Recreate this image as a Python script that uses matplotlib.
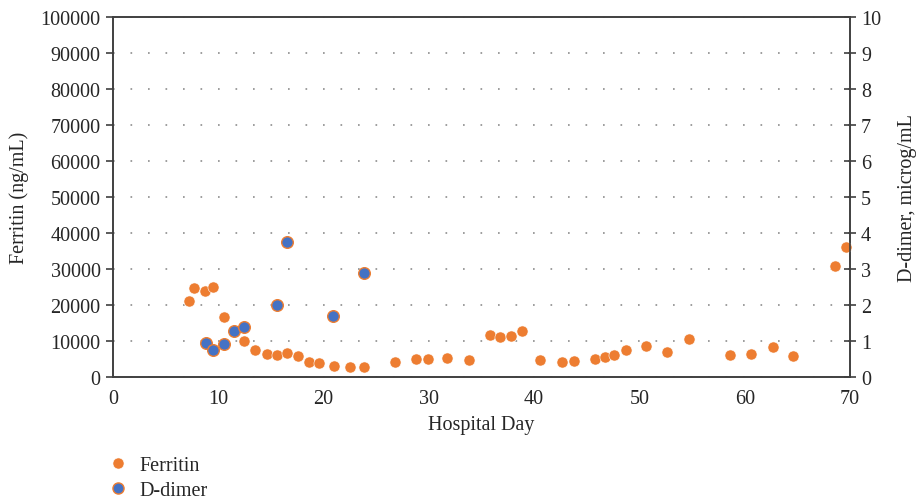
import numpy as np
import matplotlib
matplotlib.use("Agg")
import matplotlib.pyplot as plt
from matplotlib.lines import Line2D

plt.rcParams['font.family'] = ['Liberation Serif', 'DejaVu Serif']

# ferritin (ng/mL) by hospital day
ferritin_day = [7.2, 7.7, 8.7, 9.5, 10.5, 12.4, 13.5, 14.6, 15.6, 16.5, 17.6, 18.6,
                19.6, 21.0, 22.5, 23.8, 26.8, 28.8, 29.9, 31.7, 33.8, 35.8, 36.8,
                37.8, 38.8, 40.6, 42.6, 43.8, 45.8, 46.7, 47.6, 48.7, 50.6, 52.6,
                54.7, 58.6, 60.6, 62.7, 64.6, 68.6, 69.6]
ferritin_val = [21200, 24600, 24000, 24900, 16700, 9900, 7400, 6500, 6200, 6800, 5700,
                4100, 3800, 3100, 2800, 2800, 4100, 5100, 4900, 5400, 4600, 11600,
                11000, 11300, 12700, 4600, 4100, 4400, 4900, 5500, 6000, 7600, 8600,
                7000, 10500, 6000, 6300, 8400, 5700, 30700, 36200]

# D-dimer (microg/mL) by hospital day
ddimer_day = [8.8, 9.5, 10.5, 11.5, 12.4, 15.6, 16.5, 20.9, 23.8]
ddimer_val = [0.94, 0.76, 0.91, 1.29, 1.38, 2.01, 3.75, 1.69, 2.89]

orange = '#ED7D31'
blue = '#4472C4'
axis_col = '#404040'
text_col = '#262626'
fs = 14.5

fig = plt.figure(figsize=(9.19, 5.02), dpi=100)
ax = fig.add_axes([113 / 919, 1 - 378 / 502, (850 - 113) / 919, (378 - 18) / 502])
ax2 = ax.twinx()

ax.scatter(ferritin_day, ferritin_val, s=64, color=orange, edgecolors='white',
           linewidths=0.4, zorder=3, clip_on=False)
ax2.scatter(ddimer_day, ddimer_val, s=70, color=blue, edgecolors=orange,
            linewidths=1.0, zorder=3, clip_on=False)

ax.set_xlim(0, 70)
ax.set_ylim(0, 100000)
ax2.set_ylim(0, 10)
ax.set_xticks(np.arange(0, 71, 10))
ax.set_yticks(np.arange(0, 100001, 10000))
ax2.set_yticks(np.arange(0, 11, 1))

ax.grid(axis='y', color='#8C8C8C', linestyle=(0, (1, 9.5)), linewidth=1.2)
ax.set_axisbelow(True)

for a in (ax, ax2):
    for sp in a.spines.values():
        sp.set_color(axis_col)
        sp.set_linewidth(1.2)

ax.tick_params(axis='x', length=0, pad=9, labelsize=fs, colors=text_col)
ax.tick_params(axis='y', direction='out', length=5, width=1.2, color=axis_col,
               labelsize=fs, labelcolor=text_col, pad=4)
ax2.tick_params(axis='y', direction='inout', length=8, width=1.2, color=axis_col,
                labelsize=fs, labelcolor=text_col, pad=4)

ax.set_xlabel('Hospital Day', fontsize=fs, color=text_col, labelpad=5)
ax.set_ylabel('Ferritin (ng/mL)', fontsize=fs, color=text_col, labelpad=8)
ax2.set_ylabel('D-dimer, microg/mL', fontsize=fs, color=text_col, labelpad=12)

handles = [
    Line2D([], [], marker='o', linestyle='none', markersize=8,
           markerfacecolor=orange, markeredgecolor='white', markeredgewidth=0.4),
    Line2D([], [], marker='o', linestyle='none', markersize=8,
           markerfacecolor=blue, markeredgecolor=orange, markeredgewidth=1.0),
]
fig.legend(handles, ['Ferritin', 'D-dimer'], loc='upper left',
           bbox_to_anchor=(89 / 919, 1 - 443 / 502), frameon=False,
           fontsize=fs, handletextpad=0.3, labelspacing=0.3,
           handlelength=1.5, labelcolor=text_col, borderpad=0.2)

fig.savefig('out.png', dpi=100)
